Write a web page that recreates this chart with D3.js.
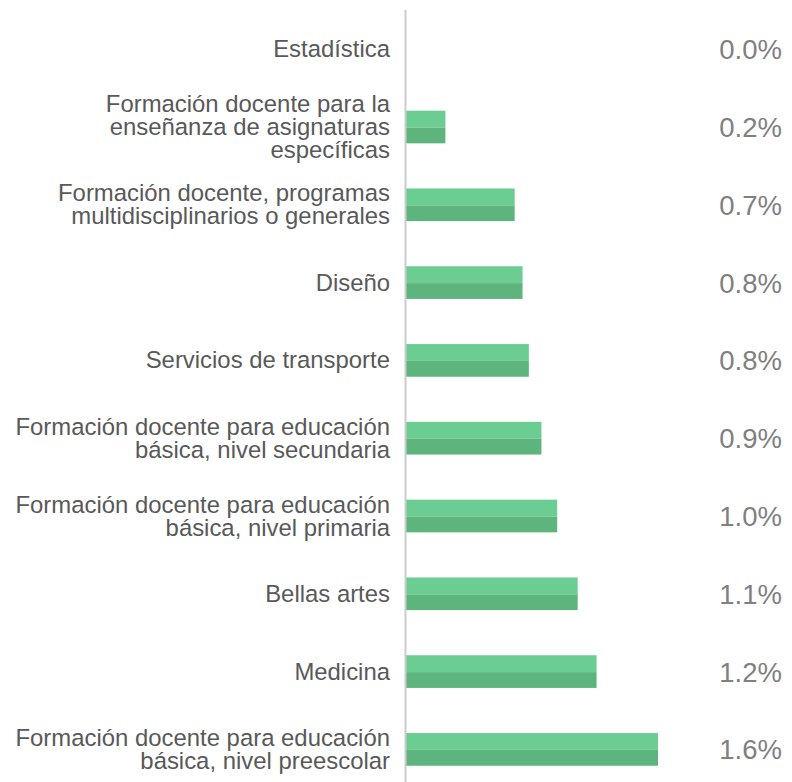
<!DOCTYPE html>
<html lang="es">
<head>
    <meta charset="UTF-8">
    <title>Participación por campo de formación</title>
    <script src="https://d3js.org/d3.v7.min.js"></script>
    <style>
        body {
            margin: 0;
            background: #ffffff;
        }
        svg {
            display: block;
            font-family: "Liberation Sans", Arial, sans-serif;
        }
        .cat-label {
            fill: #595959;
            font-size: 23.9px;
        }
        .val-label {
            fill: #808080;
            font-size: 27.5px;
        }
    </style>
</head>
<body>
    <svg id="chart"></svg>
    <script>
// Categories (each entry is the list of text lines shown)
const categories = [
    ["Estadística"],
    ["Formación docente para la", "enseñanza de asignaturas", "específicas"],
    ["Formación docente, programas", "multidisciplinarios o generales"],
    ["Diseño"],
    ["Servicios de transporte"],
    ["Formación docente para educación", "básica, nivel secundaria"],
    ["Formación docente para educación", "básica, nivel primaria"],
    ["Bellas artes"],
    ["Medicina"],
    ["Formación docente para educación", "básica, nivel preescolar"]
];

// Share (%)
const values = [0.0, 0.25, 0.69, 0.74, 0.78, 0.86, 0.96, 1.09, 1.21, 1.60];

// Labels as printed at the right
const valueLabels = ["0.0%", "0.2%", "0.7%", "0.8%", "0.8%", "0.9%", "1.0%", "1.1%", "1.2%", "1.6%"];

const width = 792;
const height = 782;

const svg = d3.select("#chart")
    .attr("width", width)
    .attr("height", height);

const margin = { top: 10, left: 406 };

const x = d3.scaleLinear()
    .domain([0, 1.6])
    .range([margin.left, 658]);

const y = d3.scaleBand()
    .domain(d3.range(categories.length))
    .range([10.3, 788.3])
    .paddingInner(0.58)
    .paddingOuter(0.29);

const rows = d3.range(categories.length);

// bars: lighter top half, darker bottom half
const bars = svg.append("g").selectAll("g")
    .data(rows)
    .join("g");

bars.append("rect")
    .attr("x", x(0))
    .attr("y", i => y(i))
    .attr("width", i => x(values[i]) - x(0))
    .attr("height", y.bandwidth() / 2 + 0.5)
    .attr("fill", "#6ccd92");

bars.append("rect")
    .attr("x", x(0))
    .attr("y", i => y(i) + y.bandwidth() / 2 + 0.5)
    .attr("width", i => x(values[i]) - x(0))
    .attr("height", y.bandwidth() / 2 - 0.5)
    .attr("fill", "#5db57d");

// vertical category axis line
svg.append("line")
    .attr("x1", 405.5)
    .attr("x2", 405.5)
    .attr("y1", 10)
    .attr("y2", height)
    .attr("stroke", "#cccccc")
    .attr("stroke-width", 2);

// category labels (tight line spacing as in the original)
const lineHeight = 23;
svg.append("g").selectAll("text")
    .data(rows)
    .join("text")
    .attr("class", "cat-label")
    .attr("text-anchor", "end")
    .each(function (i) {
        const lines = categories[i];
        const cy = y(i) + y.bandwidth() / 2;
        d3.select(this).selectAll("tspan")
            .data(lines)
            .join("tspan")
            .attr("x", 390)
            .attr("y", (d, k) => cy + (k - (lines.length - 1) / 2) * lineHeight + 8)
            .text(d => d);
    });

// value labels
svg.append("g").selectAll("text")
    .data(rows)
    .join("text")
    .attr("class", "val-label")
    .attr("text-anchor", "end")
    .attr("x", 782)
    .attr("y", i => y(i) + y.bandwidth() / 2 + 10)
    .text(i => valueLabels[i]);
    </script>
</body>
</html>
